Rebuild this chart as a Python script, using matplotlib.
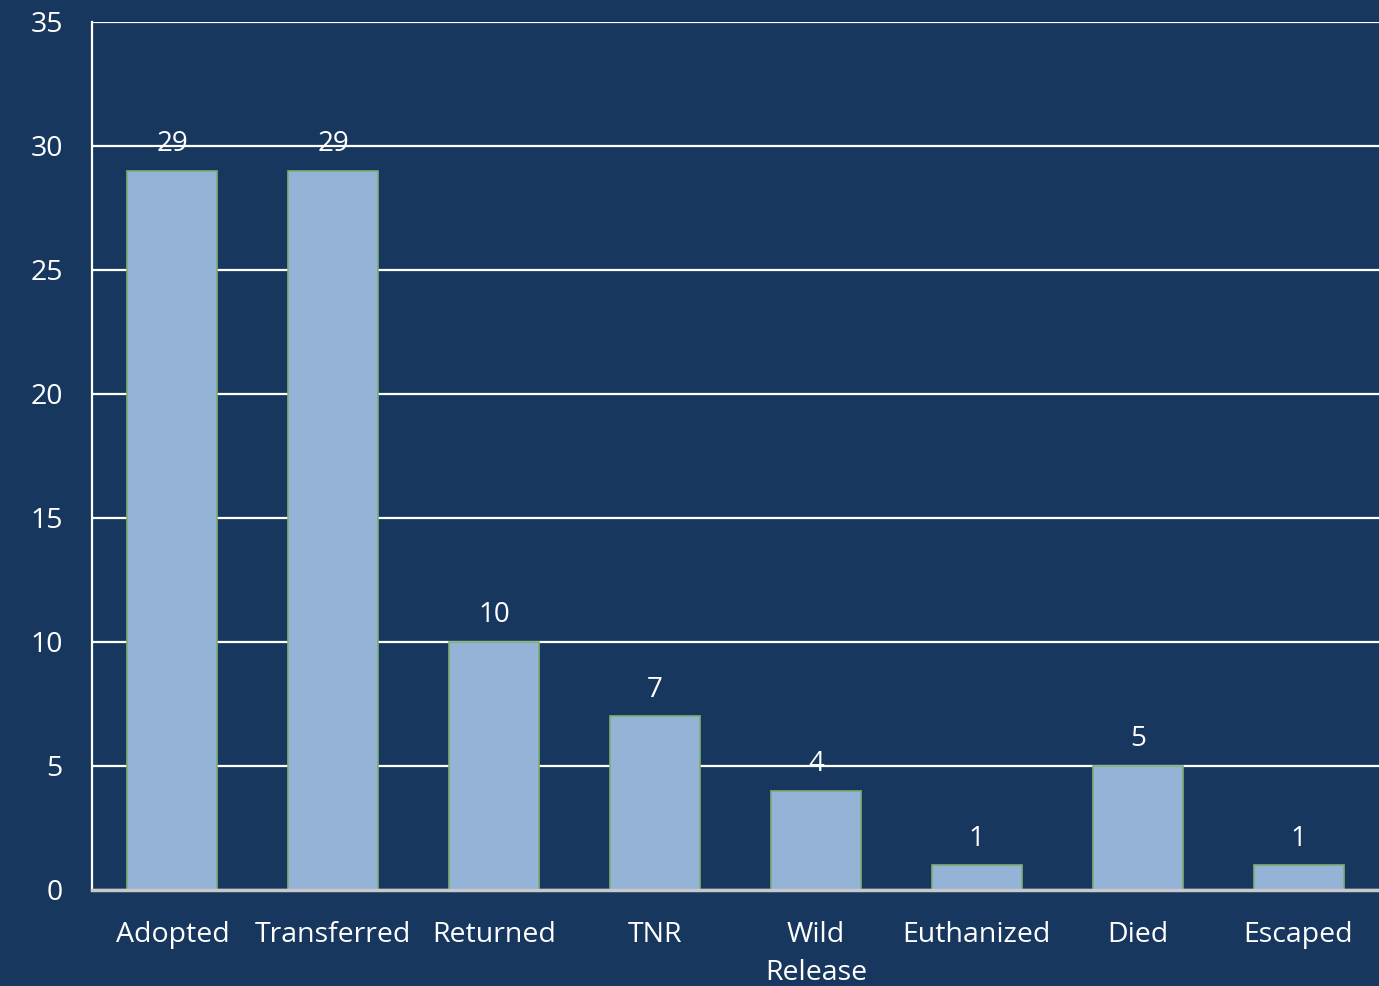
import matplotlib
matplotlib.use("Agg")
import matplotlib.pyplot as plt

categories = ["Adopted", "Transferred", "Returned", "TNR", "Wild\nRelease",
              "Euthanized", "Died", "Escaped"]
values = [29, 29, 10, 7, 4, 1, 5, 1]
yticks = [0, 5, 10, 15, 20, 25, 30, 35]

BG = "#17375E"
BAR = "#95B3D7"
EDGE = "#7FAE72"

plt.rcParams['font.family'] = ['Open Sans', 'DejaVu Sans']

fig = plt.figure(figsize=(13.79, 9.86), dpi=100, facecolor=BG)
ax = fig.add_axes([92/1379, 96/986, 1 - 92/1379, (890-22)/986])
ax.set_facecolor(BG)

x = list(range(len(categories)))
bars = ax.bar(x, values, width=0.56, color=BAR, edgecolor=EDGE, linewidth=1.2, zorder=3)

for xi, v in zip(x, values):
    ax.annotate(str(v), (xi, v), xytext=(0, 9), textcoords="offset points",
                ha="center", va="bottom", color="white", fontsize=20, zorder=4)

ax.set_xlim(-0.5, len(categories) - 0.5)
ax.set_ylim(0, 35)
ax.set_yticks(yticks)
ax.set_yticklabels([str(t) for t in yticks])
ax.set_xticks(x)
ax.set_xticklabels(categories, linespacing=1.5)
ax.yaxis.grid(True, color="white", linewidth=1.6, zorder=1)
ax.set_axisbelow(True)
ax.tick_params(axis="both", length=0, colors="white", labelsize=20.5)
ax.tick_params(axis="y", pad=21)
ax.tick_params(axis="x", pad=22)

for s in ["top", "right"]:
    ax.spines[s].set_visible(False)
ax.spines["left"].set_color("white")
ax.spines["left"].set_linewidth(1.6)
ax.spines["bottom"].set_color("#C8C8C8")
ax.spines["bottom"].set_linewidth(2.5)
ax.spines["bottom"].set_zorder(5)

fig.savefig("out.png", dpi=100, facecolor=BG)
